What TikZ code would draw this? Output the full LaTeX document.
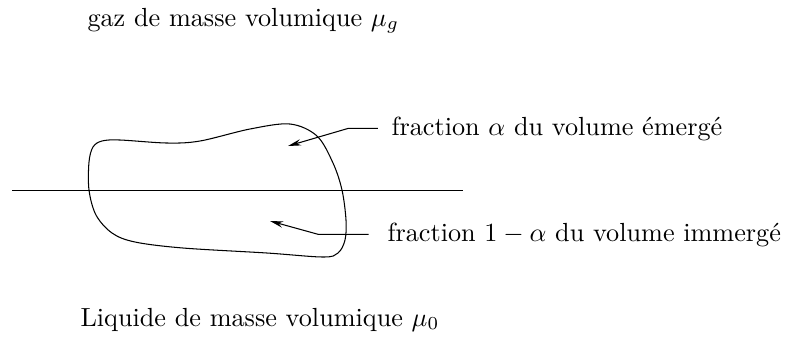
\documentclass[tikz,border=0pt]{standalone}
\usepackage{amsmath}
\usepackage{tikz}
\usetikzlibrary{
    arrows.meta,
    positioning
}
\tikzset{
  lbl/.style   = {anchor=base west, inner sep=0pt},
  arr/.style   = {-{Stealth[length=5pt,width=2.4pt]}, thin},
  surf/.style  = {thin},
  corps/.style = {thin}
}

\begin{document}
\begin{tikzpicture}[x=0.3815pt, y=-0.3815pt]
    \useasboundingbox (0,0) rectangle (789,342);

    \node[lbl] (gaz) at (87,26) {gaz de masse volumique $\mu_g$};
    \node[lbl] (liq) at (80,326) {Liquide de masse volumique $\mu_0$};
    \node[lbl] (emerge) at (391,135) {fraction $\alpha$ du volume émergé};
    \node[lbl] (immerge) at (387,241) {fraction $1-\alpha$ du volume immergé};

    % surface libre
    \coordinate (sL) at (12,190.5);
    \coordinate (sR) at (463,190.5);
    \draw[surf] (sL) -- (sR);

    % le solide
    \draw[corps] plot[smooth cycle, tension=0.55] coordinates {
      (102,141) (120,140) (167,143) (200,141) (250,129) (290,124)
      (317,136) (333,163) (342,190) (346,220) (345,240) (338,253)
      (323,257) (267,253) (183,248) (135,242) (112,233) (96,215)
      (89,190) (89,162) (93,147)};

    % fleches
    \coordinate (e2) at (288,146);
    \coordinate (i2) at (270,221);
    \draw[arr] ([xshift=-5pt]emerge.west) -- ++(-30,0) -- (e2);
    \draw[arr] ([xshift=-7pt]immerge.west) -- ++(-50,0) -- (i2);
\end{tikzpicture}
\end{document}
